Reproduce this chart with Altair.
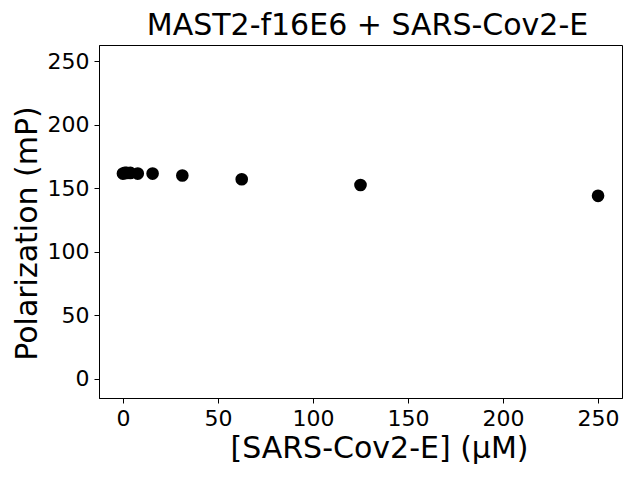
import altair as alt
import pandas as pd

conc = [0, 0.98, 1.95, 3.9, 7.8, 15.6, 31.25, 62.5, 125, 250]
polar = [161.5, 162, 162, 162, 161.5, 161.5, 160, 157, 152.5, 144]

df = pd.DataFrame({"conc": conc, "polar": polar})

chart = alt.Chart(df).mark_circle(size=160, color="black", opacity=1).encode(
    x=alt.X("conc:Q", scale=alt.Scale(domain=[-12.6, 262.6], nice=False, zero=False),
            axis=alt.Axis(values=[0, 50, 100, 150, 200, 250], title="[SARS-Cov2-E] (µM)",
                          titleX=280)),
    y=alt.Y("polar:Q", scale=alt.Scale(domain=[-15, 262.6], nice=False, zero=False),
            axis=alt.Axis(values=[0, 50, 100, 150, 200, 250], title="Polarization (mP)",
                          titleY=188)),
).properties(
    width=523, height=353,
    title=alt.TitleParams("MAST2-f16E6 + SARS-Cov2-E", fontSize=30, font="DejaVu Sans",
                          fontWeight="normal", color="black", offset=4, dx=7),
    autosize=alt.AutoSizeParams(type="none"),
    padding={"left": 91, "top": 37, "right": 10, "bottom": 74},
).configure_axis(
    labelFont="DejaVu Sans", titleFont="DejaVu Sans", labelFontSize=22, titleFontSize=30,
    titleFontWeight="normal", labelColor="black", titleColor="black",
    domainColor="black", tickColor="black", tickSize=5, grid=False,
    labelPadding=5,
).configure_axisX(titlePadding=4).configure_axisY(titlePadding=5).configure_view(
    stroke="black", strokeWidth=1
)

chart.save("out.html", embed_options={"renderer": "svg", "actions": False})
